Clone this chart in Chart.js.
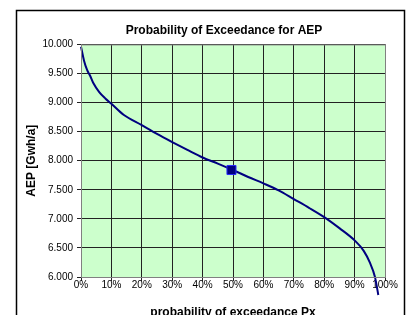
<!DOCTYPE html>
<html>
<head>
<meta charset="utf-8">
<script src="https://cdn.jsdelivr.net/npm/chart.js@4.4.1/dist/chart.umd.min.js"></script>
<style>
  html, body { margin: 0; padding: 0; background: #fff; }
  canvas { display: block; }
</style>
</head>
<body>
<canvas id="aepChart" width="408" height="315"></canvas>
<script>
// exceedance curve
const exceedancePct = [0, 1, 2, 3, 4, 6, 8, 10, 14, 20, 25, 30, 35, 40, 45, 50, 55, 60, 65, 70, 75, 80, 85, 90, 93, 95, 96.7, 97.8];
const aepValues = [9960, 9720, 9560, 9460, 9340, 9180, 9070, 8980, 8790, 8610, 8460, 8320, 8185, 8055, 7950, 7840, 7720, 7610, 7490, 7340, 7190, 7030, 6840, 6630, 6450, 6250, 6000, 5690];
// P50 marker
const p50Pct = [49.5];
const p50Aep = [7840];
const xTicks = [0, 10, 20, 30, 40, 50, 60, 70, 80, 90, 100];
const yTicks = [6000, 6500, 7000, 7500, 8000, 8500, 9000, 9500, 10000];

function fmtThousands(v) {
    let s = String(Math.round(v));
    return s.replace(/\B(?=(\d{3})+(?!\d))/g, '.');
}

const curvePoints = exceedancePct.map((p, i) => ({x: p, y: aepValues[i]}));
const p50Points = p50Pct.map((p, i) => ({x: p, y: p50Aep[i]}));

const frameBg = {
    id: 'frameBg',
    afterLayout(chart) {
        // title sits centred over the chart frame, not the whole canvas
        const t = chart.titleBlock;
        if (t) { t.left = 44; t.right = 404; }
    },
    beforeDraw(chart) {
        const {ctx, chartArea: a} = chart;
        ctx.save();
        ctx.fillStyle = '#ccffcc';
        ctx.fillRect(a.left, a.top, a.right - a.left, a.bottom - a.top);
        ctx.restore();
    },
    afterDraw(chart) {
        const {ctx, chartArea: a} = chart;
        ctx.save();
        ctx.strokeStyle = '#808080';
        ctx.lineWidth = 1;
        ctx.strokeRect(a.left + 0.5, a.top + 0.5, a.right - a.left, a.bottom - a.top);
        // outer chart border
        ctx.strokeStyle = '#000';
        ctx.lineWidth = 1.5;
        ctx.strokeRect(16.5, 10.5, 388, 330);
        ctx.restore();
    }
};

Chart.defaults.font.family = '"Liberation Sans", Arial, sans-serif';
Chart.defaults.color = '#000';

new Chart(document.getElementById('aepChart').getContext('2d'), {
    type: 'line',
    data: {
        datasets: [{
            label: 'P50',
            data: p50Points,
            showLine: false,
            pointStyle: 'rect',
            pointRadius: 6.4,
            pointBackgroundColor: '#000080',
            pointBorderColor: '#2a2aff',
            pointBorderWidth: 1
        }, {
            label: 'AEP',
            data: curvePoints,
            borderColor: '#000080',
            borderWidth: 2,
            pointRadius: 0,
            cubicInterpolationMode: 'monotone',
            fill: false,
            clip: false
        }]
    },
    options: {
        responsive: false,
        animation: false,
        devicePixelRatio: 1,
        layout: {padding: {left: 0, right: 23, top: 0, bottom: 0}},
        plugins: {
            legend: {display: false},
            tooltip: {enabled: false},
            title: {
                display: true,
                text: 'Probability of Exceedance for AEP',
                font: {size: 12, weight: 'bold'},
                padding: {top: 23, bottom: 7},
                color: '#000'
            }
        },
        scales: {
            x: {
                type: 'linear',
                min: 0,
                max: 100,
                afterBuildTicks: s => { s.ticks = xTicks.map(v => ({value: v})); },
                afterFit: s => { s.height = 38; },
                ticks: {
                    callback: v => v + '%',
                    font: {size: 10},
                    padding: -2,
                    maxRotation: 0
                },
                grid: {color: '#222', lineWidth: 1, tickLength: 4, drawTicks: true},
                border: {color: '#808080'},
                title: {
                    display: true,
                    text: 'probability of exceedance Px',
                    font: {size: 12, weight: 'bold'},
                    padding: {top: 0, bottom: -5}
                }
            },
            y: {
                min: 6000,
                max: 10000,
                afterBuildTicks: s => { s.ticks = yTicks.map(v => ({value: v})); },
                afterFit: s => { s.width = 81; },
                ticks: {
                    callback: v => fmtThousands(v),
                    font: {size: 10},
                    padding: 4
                },
                grid: {color: '#222', lineWidth: 1, tickLength: 4},
                border: {color: '#808080'},
                title: {
                    display: true,
                    text: 'AEP [Gwh/a]',
                    font: {size: 12, weight: 'bold'},
                    padding: {top: 24, bottom: 0}
                }
            }
        }
    },
    plugins: [frameBg]
});
</script>
</body>
</html>
